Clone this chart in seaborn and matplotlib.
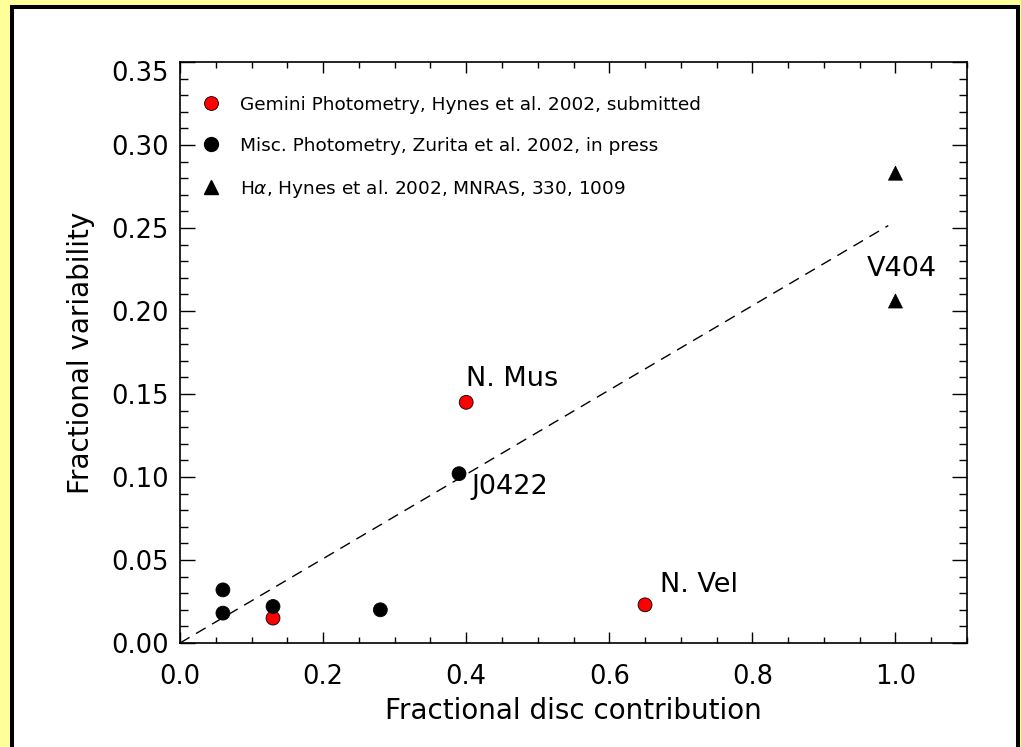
import matplotlib
matplotlib.use("Agg")
import matplotlib.pyplot as plt
import matplotlib.transforms as mtransforms
import numpy as np
import pandas as pd
import seaborn as sns
from matplotlib.lines import Line2D
from matplotlib.patches import Rectangle
from matplotlib.ticker import MultipleLocator, FormatStrFormatter

# ---- data -------------------------------------------------------------
# Gemini photometry (Hynes et al. 2002, submitted)
gemini_disc = [0.13, 0.40, 0.65]
gemini_var = [0.015, 0.145, 0.023]

# Misc. photometry (Zurita et al. 2002, in press)
misc_disc = [0.06, 0.06, 0.13, 0.28, 0.39]
misc_var = [0.032, 0.018, 0.022, 0.020, 0.102]

# H-alpha (Hynes et al. 2002, MNRAS, 330, 1009)
halpha_disc = [1.0, 1.0]
halpha_var = [0.283, 0.206]

source_labels = [
    "Gemini Photometry, Hynes et al. 2002, submitted",
    "Misc. Photometry, Zurita et al. 2002, in press",
    r"H$\alpha$, Hynes et al. 2002, MNRAS, 330, 1009",
]

# named systems: (name, disc fraction, variability of the point it labels)
object_names = ["N. Mus", "J0422", "N. Vel", "V404"]
object_disc = [0.40, 0.39, 0.65, 1.0]
object_var = [0.145, 0.102, 0.023, 0.206]

# proportional relation drawn as the dashed line
fit_disc = [0.0, 0.99]
fit_slope = 0.254

x_ticks = [0.0, 0.2, 0.4, 0.6, 0.8, 1.0]
y_ticks = [0.00, 0.05, 0.10, 0.15, 0.20, 0.25, 0.30, 0.35]

# ---- table for seaborn -----------------------------------------------
df = pd.concat([
    pd.DataFrame({"disc": gemini_disc, "var": gemini_var, "source": source_labels[0]}),
    pd.DataFrame({"disc": misc_disc, "var": misc_var, "source": source_labels[1]}),
    pd.DataFrame({"disc": halpha_disc, "var": halpha_var, "source": source_labels[2]}),
], ignore_index=True)

sns.set_style("ticks")
plt.rcParams["font.family"] = ["DejaVu Sans"]
plt.rcParams["axes.linewidth"] = 1.2
plt.rcParams["axes.edgecolor"] = "black"
plt.rcParams["text.color"] = "black"
plt.rcParams["axes.labelcolor"] = "black"

W, H = 1021, 747
fig = plt.figure(figsize=(W / 100, H / 100), dpi=100)
fig.patch.set_facecolor("#FFFF99")

# white panel with a thick black frame
panel = Rectangle((12 / W, -0.05), (1017.5 - 12) / W, 1.05 - 7 / H,
                  transform=fig.transFigure, facecolor="white",
                  edgecolor="black", linewidth=2.9, zorder=-5)
fig.patches.append(panel)

ax = fig.add_axes([180 / W, 1 - 643 / H, (967 - 180) / W, (643 - 62) / H])
ax.set_facecolor("none")

palette = {source_labels[0]: "#FF0000", source_labels[1]: "black", source_labels[2]: "black"}
markers = {source_labels[0]: "o", source_labels[1]: "o", source_labels[2]: "^"}

sns.scatterplot(data=df, x="disc", y="var", hue="source", style="source",
                palette=palette, markers=markers, s=100, edgecolor="black",
                linewidth=0.6, legend=False, ax=ax, zorder=3)

fx = np.array(fit_disc)
ax.plot(fx, fit_slope * fx, color="black", linewidth=1.0,
        linestyle=(0, (8, 5.4)), zorder=2)

# object labels, offset from their points (in points)
offsets = [(0, 17), (9, -9.5), (11, 14.5), (4.5, 23)]
aligns = ["left", "left", "left", "center"]
for name, xv, yv, off, ha in zip(object_names, object_disc, object_var, offsets, aligns):
    ax.annotate(name, (xv, yv), xytext=off, textcoords="offset points",
                ha=ha, va="center", fontsize=19.5)

ax.set_xlim(0, 1.1)
ax.set_ylim(0, 0.35)
ax.set_xticks(x_ticks)
ax.set_yticks(y_ticks)
ax.xaxis.set_major_formatter(FormatStrFormatter("%.1f"))
ax.yaxis.set_major_formatter(FormatStrFormatter("%.2f"))
ax.xaxis.set_minor_locator(MultipleLocator(0.05))
ax.yaxis.set_minor_locator(MultipleLocator(0.01))

ax.tick_params(axis="both", which="both", direction="in", top=True, right=True,
               color="black", width=1.0, labelsize=18.5, labelcolor="black")
ax.tick_params(axis="x", which="major", length=8, pad=15)
ax.tick_params(axis="x", which="minor", length=4)
ax.tick_params(axis="y", which="major", length=11, pad=8)
ax.tick_params(axis="y", which="minor", length=5.5)

# the topmost y label sits a little below the frame corner
top_label = ax.yaxis.get_major_ticks()[-1].label1
top_label.set_transform(top_label.get_transform() +
                        mtransforms.ScaledTranslation(0, -9 / 100, fig.dpi_scale_trans))

ax.set_xlabel("Fractional disc contribution", fontsize=20, labelpad=5)
ax.set_ylabel("Fractional variability", fontsize=20, labelpad=12)

handles = [
    Line2D([], [], linestyle="none", marker="o", markersize=10,
           markerfacecolor="#FF0000", markeredgecolor="black", markeredgewidth=0.6),
    Line2D([], [], linestyle="none", marker="o", markersize=10,
           markerfacecolor="black", markeredgecolor="black"),
    Line2D([], [], linestyle="none", marker="^", markersize=10,
           markerfacecolor="black", markeredgecolor="black"),
]
ax.legend(handles, source_labels, loc="upper left", bbox_to_anchor=(0.0267, 0.9416),
          frameon=False, fontsize=13.3, borderpad=0, borderaxespad=0,
          handlelength=1.05, handletextpad=1.05, labelspacing=1.24)

sns.despine(ax=ax, top=False, right=False)
fig.savefig("out.png", dpi=100, facecolor=fig.get_facecolor())
